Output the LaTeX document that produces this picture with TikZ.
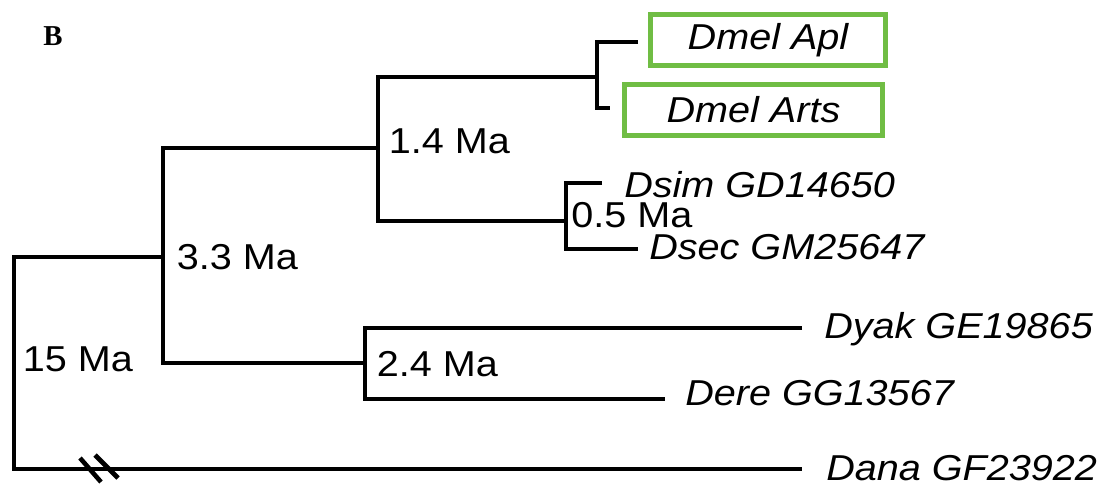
\documentclass[tikz,border=0pt]{standalone}
\usepackage{fontspec}
\setmainfont{Liberation Sans}
\newfontfamily\panelfont{Liberation Serif}
\definecolor{boxgreen}{RGB}{112,189,68}
\def\wide#1{\scalebox{1.1}[1]{#1}}
\tikzset{
  branch/.style={line width=1.15mm},
  age/.style={anchor=base west, inner sep=0pt, font=\fontsize{25.6}{30}\selectfont},
  taxon/.style={age, font=\fontsize{25.6}{30}\selectfont\itshape},
  gene/.style={taxon, anchor=center, draw=boxgreen, line width=1.25mm, minimum height=1.275cm},
}

\begin{document}
\begin{tikzpicture}[x=0.025cm,y=-0.025cm]
		\useasboundingbox (0,0) rectangle (1105,486);
		
		\node[anchor=base west, inner sep=0pt, font=\panelfont\bfseries\fontsize{20.5}{24}\selectfont] (panel) at (43,46) {B};
		
		%%%%% tips %%%%%
		\node[gene, minimum width=5.875cm] (apl) at (768,40) {\wide{Dmel Apl}};
		\node[gene, minimum width=6.45cm] (arts) at (753.5,110) {\wide{Dmel Arts}};
		\node[taxon] (sim) at (624,197) {\wide{Dsim GD14650}};
		\node[taxon] (sec) at (649,259) {\wide{Dsec GM25647}};
		\node[taxon] (yak) at (824,338) {\wide{Dyak GE19865}};
		\node[taxon] (ere) at (685,405) {\wide{Dere GG13567}};
		\node[taxon] (ana) at (826,480) {\wide{Dana GF23922}};
		
		\coordinate (aplTip) at (638,42);
		\coordinate (artsTip) at (610,108);
		\coordinate (simTip) at (602,183);
		\coordinate (secTip) at (638,249);
		\coordinate (yakTip) at (802,328);
		\coordinate (ereTip) at (665,399);
		\coordinate (anaTip) at (802,469);
		
		%%%%% internal nodes %%%%%
		\coordinate (mel) at (597,77);
		\coordinate (simsec) at (566,221);
		\coordinate (n14) at (378,148);
		\coordinate (n24) at (365,363);
		\coordinate (n33) at (163,257);
		\coordinate (n15) at (14,360);
		
		\draw[branch] (aplTip) -| (mel) |- (artsTip);
		\draw[branch] (simTip) -| (simsec) |- (secTip);
		\draw[branch] (mel) -| (n14) |- (simsec);
		\draw[branch] (yakTip) -| (n24) |- (ereTip);
		\draw[branch] (n14) -| (n33) |- (n24);
		\draw[branch] (n33) -| (n15) |- (anaTip);
		
		% break on the long branch
		\draw[branch] (80,458) -- (101,482);
		\draw[branch] (95,455) -- (118,478);
		
		%%%%% ages %%%%%
		\node[age] (a14) at (388.5,153) {\wide{1.4 Ma}};
		\node[age] (a05) at (571,227) {\wide{0.5 Ma}};
		\node[age] (a33) at (176.5,269) {\wide{3.3 Ma}};
		\node[age] (a24) at (376.5,376) {\wide{2.4 Ma}};
		\node[age] (a15) at (22.5,371) {\wide{15 Ma}};
		
	\end{tikzpicture}
\end{document}
